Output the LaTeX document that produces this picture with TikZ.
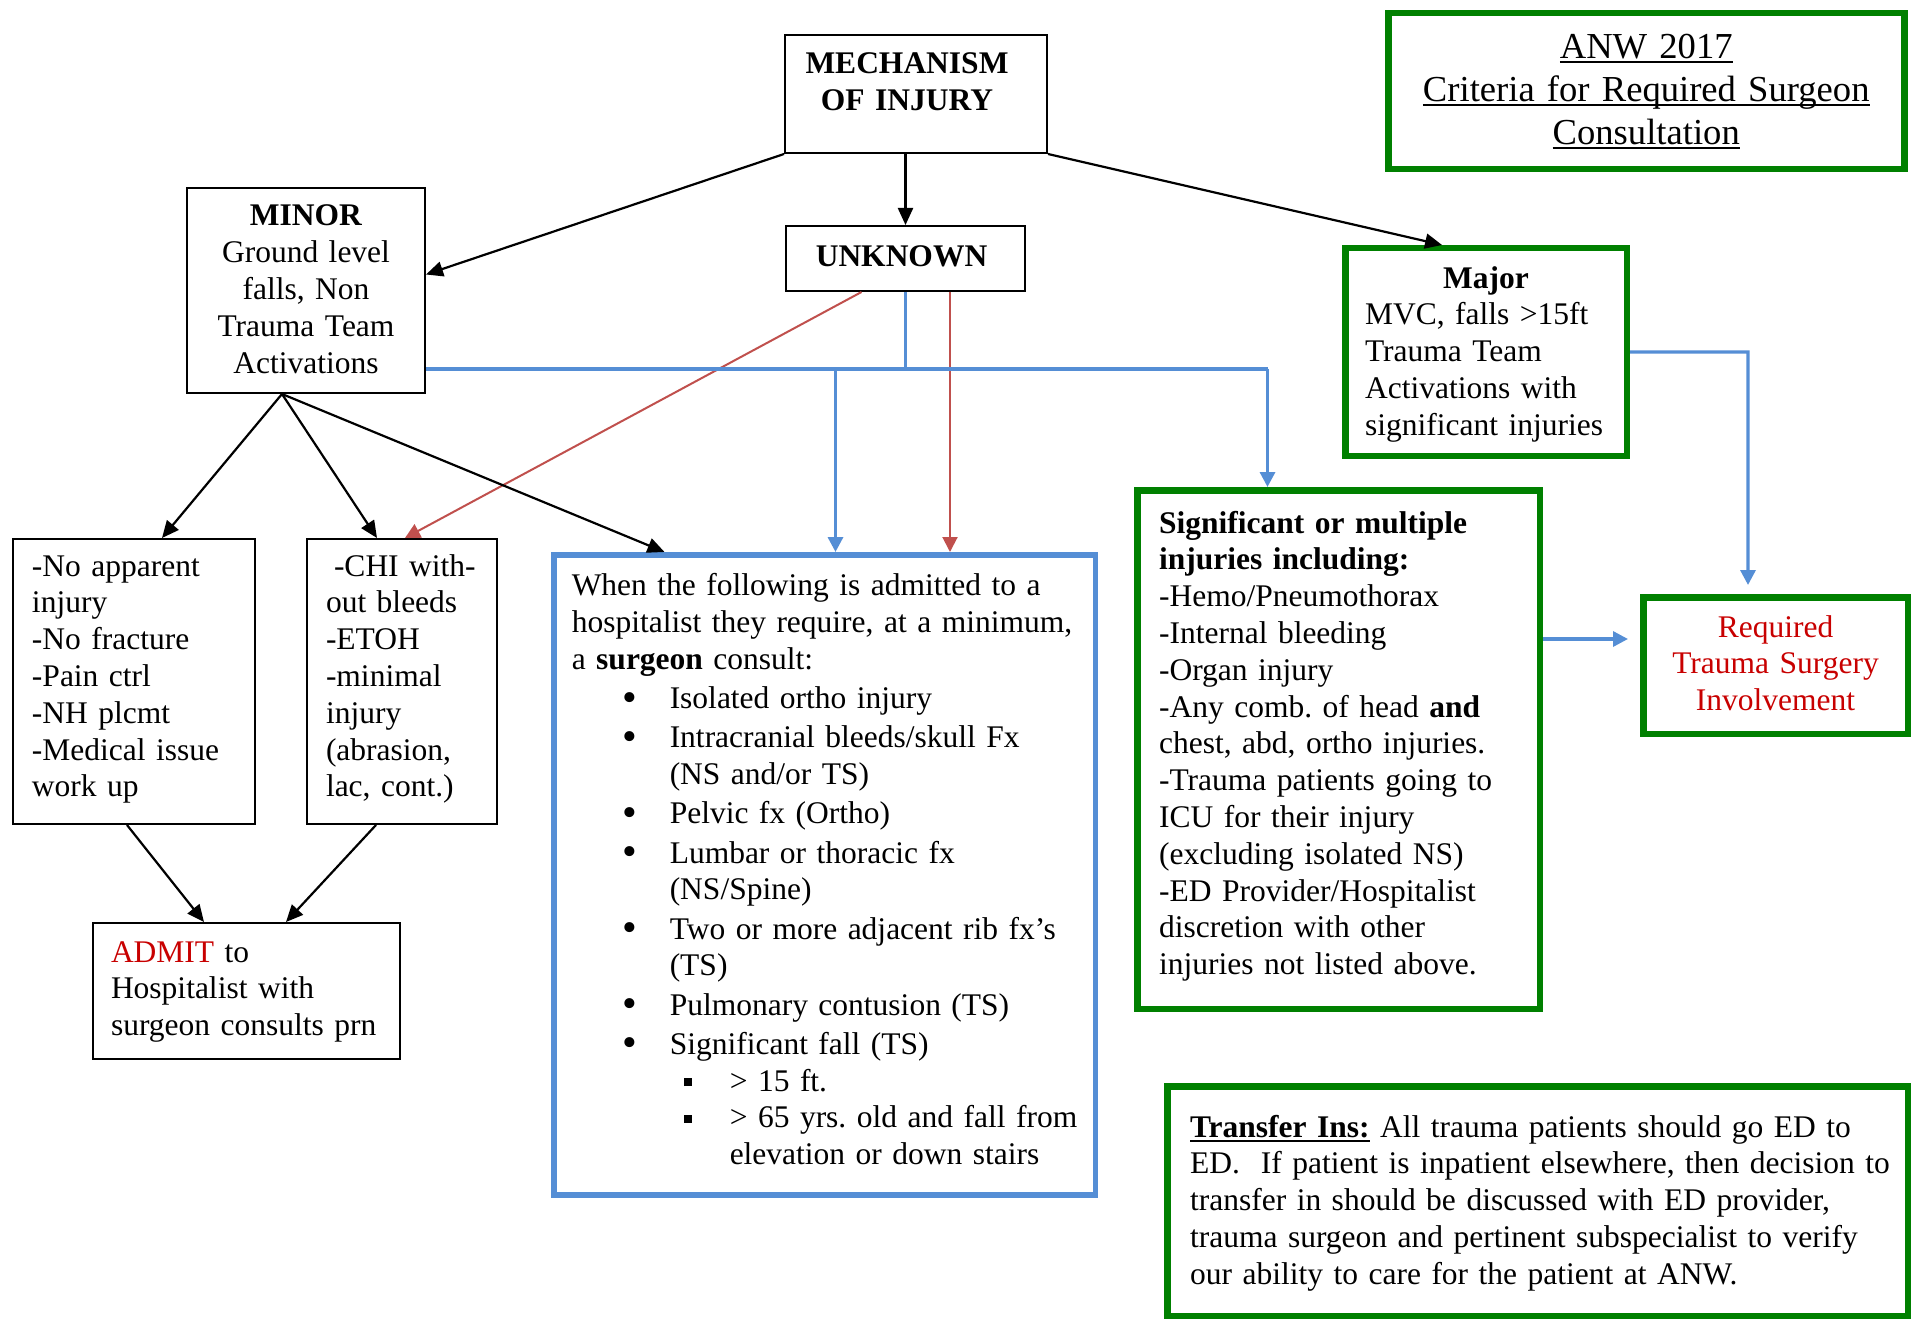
\documentclass[tikz,border=0pt]{standalone}
\usepackage{fontspec}
\setmainfont{Liberation Serif}
\usepackage{tikz}
\usetikzlibrary{arrows.meta}

\definecolor{boxgreen}{RGB}{0,128,0}
\definecolor{linkblue}{RGB}{85,142,213}
\definecolor{linkred}{RGB}{192,80,77}
\definecolor{textred}{RGB}{200,0,0}

\newcommand{\wordline}[1]{\leavevmode\setbox0=\hbox{#1}\rlap{\rule[-2.4pt]{\wd0}{0.9pt}}\box0\relax}
\newcommand{\itm}{\leavevmode\makebox[49pt][l]{\hspace*{25.6pt}\raisebox{-1.3pt}{\fontsize{21}{21}\selectfont\textbullet}}}
\newcommand{\subitm}{\leavevmode\makebox[79pt][l]{\hspace*{56pt}\rule[2.5pt]{4pt}{4pt}}}
\frenchspacing

\begin{document}
\begin{tikzpicture}[x=0.5pt,y=-0.5pt,
	every node/.style={font=\fontsize{15.75}{18.4}\selectfont},
	box/.style={anchor=north west, inner ysep=0pt},
	blackbox/.style={box, draw, line width=1pt},
	greenbox/.style={box, draw=boxgreen, line width=3.25pt},
	bluebox/.style={box, draw=linkblue, line width=2.75pt},
	arr/.style={-{Triangle[length=8.5pt,width=7.5pt]}, line width=1.1pt},
	blueline/.style={draw=linkblue, line width=1.65pt},
	bluearr/.style={blueline, -{Triangle[length=7.5pt,width=7.5pt]}},
	redarr/.style={draw=linkred, line width=1pt, -{Triangle[length=7.5pt,width=7.5pt]}}]

	\useasboundingbox (0,0) rectangle (1918,1321);

	\node[blackbox, align=center, inner xsep=4pt, text width=123pt, text height=19.5pt, text depth=39.5pt] (mech) at (784,34) {\hspace*{-9pt}\textbf{MECHANISM}\\\hspace*{-9pt}\textbf{OF INJURY}};
	\node[blackbox, align=center, inner xsep=4pt, text width=111pt, text height=19pt, text depth=83.5pt] (minor) at (186,187) {\textbf{MINOR}\\Ground level\\falls, Non\\Trauma Team\\Activations};
	\node[blackbox, align=center, inner xsep=4pt, text width=111.5pt, text height=20.5pt, text depth=12pt] (unknown) at (785,225) {\hspace*{-4pt}\textbf{UNKNOWN}};
	\node[greenbox, align=left, inner xsep=9.9pt, text width=121pt, text height=19.9pt, text depth=83.9pt] (major) at (1342,245) {\makebox[\hsize][c]{\textbf{Major}}\\MVC, falls >15ft\\Trauma Team\\Activations with\\\mbox{significant injuries}};
	\node[greenbox, align=center, inner xsep=4pt, text width=250pt, text height=22.6pt, text depth=55.2pt, font=\fontsize{18.3}{21.5}\selectfont] (title) at (1385,10) {\wordline{ANW 2017}\\\wordline{Criteria for Required Surgeon}\\\wordline{Consultation}};

	\node[blackbox, align=left, inner xsep=9.5pt, text width=102pt, text height=18.5pt, text depth=124pt] (noapp) at (12,538) {-No apparent\\injury\\-No fracture\\-Pain ctrl\\-NH plcmt\\-Medical issue\\work up};
	\node[blackbox, align=left, inner xsep=9.5pt, text width=76pt, text height=18.5pt, text depth=124pt] (chi) at (306,538) {\mbox{\hspace*{4pt}-CHI with-}\\out bleeds\\-ETOH\\-minimal\\injury\\(abrasion,\\lac, cont.)};
	\node[blackbox, align=left, inner xsep=9pt, text width=135.5pt, text height=19.5pt, text depth=48.5pt] (admit) at (92,922) {\textcolor{textred}{ADMIT} to\\Hospitalist with\\\mbox{surgeon consults prn}};

	\node[bluebox, align=left, inner xsep=9pt, text width=252.75pt, text height=20.6pt, text depth=299.6pt] (rules) at (551,552) {When the following is admitted to a\\
		\mbox{hospitalist they require, at a minimum,}\\
		a \textbf{surgeon} consult:\\[1.2pt]
		\itm Isolated ortho injury\\[1.2pt]
		\itm Intracranial bleeds/skull Fx\\
		\hspace*{49pt}(NS and/or TS)\\[1.2pt]
		\itm Pelvic fx (Ortho)\\[1.2pt]
		\itm Lumbar or thoracic fx\\
		\hspace*{49pt}(NS/Spine)\\[1.2pt]
		\itm Two or more adjacent rib fx’s\\
		\hspace*{49pt}(TS)\\[1.2pt]
		\itm Pulmonary contusion (TS)\\[1.2pt]
		\itm Significant fall (TS)\\
		\subitm > 15 ft.\\
		\subitm \mbox{> 65 yrs. old and fall from}\\
		\hspace*{79pt}elevation or down stairs};

	\node[greenbox, align=left, inner xsep=10.9pt, text width=179.5pt, text height=21.4pt, text depth=237.9pt] (sig) at (1134,487) {\textbf{Significant or multiple}\\\textbf{injuries including:}\\-Hemo/Pneumothorax\\-Internal bleeding\\-Organ injury\\-Any comb. of head \textbf{and}\\chest, abd, ortho injuries.\\-Trauma patients going to\\ICU for their injury\\(excluding isolated NS)\\-ED Provider/Hospitalist\\discretion with other\\injuries not listed above.};
	\node[greenbox, align=center, inner xsep=4pt, text width=124.25pt, text height=19.9pt, text depth=48.4pt, text=textred] (req) at (1640,594) {Required\\Trauma Surgery\\Involvement};
	\node[greenbox, align=left, inner xsep=11.4pt, text width=347.5pt, text height=25.4pt, text depth=89.4pt] (transfer) at (1164,1083) {\mbox{\wordline{\textbf{Transfer Ins:}} All trauma patients should go ED to}\\\mbox{ED.\ \ If patient is inpatient elsewhere, then decision to}\\transfer in should be discussed with ED provider,\\\mbox{trauma surgeon and pertinent subspecialist to verify}\\our ability to care for the patient at ANW.};

	\coordinate (fork) at ([xshift=-12pt]minor.south);
	\coordinate (hub) at (905.5,369);
	\coordinate (bluedrop) at (835.5,369);
	\coordinate (sigdrop) at (1267.5,369);
	\coordinate (reqdrop) at (1748,352);
	\coordinate (sigout) at (1543,639);

	\draw[redarr] ([xshift=-22pt]unknown.south) -- ([xshift=1.5pt]chi.north);
	\draw[redarr] ([xshift=22.25pt]unknown.south) -- ([xshift=22.25pt]unknown.south |- rules.north);

	\draw[blueline] (unknown.south) -- (hub);
	\draw[blueline] (minor.east |- hub) -- (sigdrop);
	\draw[bluearr] (sigdrop) -- (sigdrop |- sig.north);
	\draw[bluearr] (bluedrop) -- (bluedrop |- rules.north);
	\draw[bluearr, shorten >=4.5pt] (major.east) -- (reqdrop) -- (reqdrop |- req.north);
	\draw[bluearr, shorten >=6pt] (sigout) -- (sigout -| req.west);

	\draw[arr] (mech.south west) -- ([yshift=8pt]minor.east);
	\draw[arr] (unknown.north |- mech.south) -- (unknown.north);
	\draw[arr] (mech.south east) -- ([xshift=-22pt]major.north);
	\draw[arr] (fork) -- ([xshift=14pt]noapp.north);
	\draw[arr] (fork) -- ([xshift=-12.5pt]chi.north);
	\draw[arr] (fork) -- ([xshift=-80pt]rules.north);
	\draw[arr] ([xshift=-3.5pt]noapp.south) -- ([xshift=-21.25pt]admit.north);
	\draw[arr] ([xshift=-13pt]chi.south) -- ([xshift=19.75pt]admit.north);

\end{tikzpicture}
\end{document}
